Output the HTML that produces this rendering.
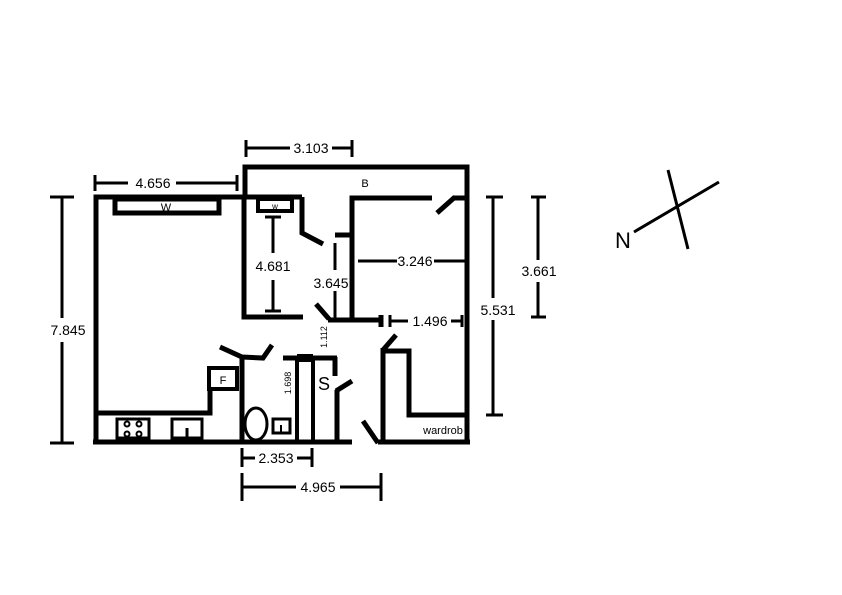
<!DOCTYPE html>
<html><head><style>body{margin:0;background:#fff}svg{display:block}text{font-family:"Liberation Sans",sans-serif;fill:#000}</style></head><body>
<svg width="842" height="595" viewBox="0 0 842 595" xmlns="http://www.w3.org/2000/svg">
<g stroke="#000" stroke-width="5" fill="none" stroke-linecap="butt">
<polyline points="96,442 96,197 302,197"/>
<line x1="93" y1="442" x2="352" y2="442"/>
<line x1="378" y1="442" x2="470" y2="442"/>
<polyline points="245,197 245,167 467,167 467,443"/>
<rect x="115" y="199" width="104" height="14"/>
<rect x="258" y="199" width="34" height="12" stroke-width="4"/>
<polyline points="244,197 244,317 303,317"/>
<polyline points="302,197 302,233 323,244"/>
<polyline points="432,198 352,198 352,322"/>
<line x1="453" y1="198" x2="469" y2="198"/>
<line x1="437" y1="213" x2="455" y2="197"/>
<line x1="328" y1="320" x2="382" y2="320"/>
<line x1="381" y1="315" x2="381" y2="327"/>
<line x1="335" y1="235" x2="352" y2="235"/>
<line x1="316" y1="304" x2="329" y2="319"/>
<polyline points="96,413 210,413 210,391"/>
<rect x="209" y="368" width="28" height="21" stroke-width="4"/>
<line x1="242" y1="357" x2="242" y2="442"/>
<polyline points="220,347 242,357 263,358 272,345"/>
<line x1="283" y1="358" x2="337" y2="358"/>
<line x1="297" y1="358" x2="313" y2="358" stroke-width="8"/>
<line x1="297" y1="358" x2="297" y2="442" stroke-width="4"/>
<line x1="313" y1="358" x2="313" y2="442" stroke-width="4"/>
<line x1="335" y1="357" x2="335" y2="376"/>
<line x1="336" y1="391" x2="352" y2="381"/>
<line x1="337" y1="390" x2="337" y2="442"/>
<line x1="363" y1="421" x2="378" y2="443"/>
<line x1="383" y1="348" x2="383" y2="442"/>
<line x1="383" y1="350" x2="396" y2="335"/>
<polyline points="383,351 409,351 409,415 467,415"/>
</g>
<g stroke="#000" fill="none">
<rect x="117" y="419" width="32" height="19" stroke-width="3"/>
<rect x="172" y="419" width="30" height="19" stroke-width="3"/>
<line x1="187" y1="438" x2="187" y2="428" stroke-width="3"/>
<circle cx="127" cy="424" r="2.5" stroke-width="2"/><circle cx="139" cy="424" r="2.5" stroke-width="2"/>
<circle cx="127" cy="434" r="2.5" stroke-width="2"/><circle cx="139" cy="434" r="2.5" stroke-width="2"/>
<ellipse cx="256" cy="424" rx="11" ry="16" stroke-width="3"/>
<rect x="273" y="419" width="17" height="14" stroke-width="3"/>
<line x1="281" y1="433" x2="281" y2="425" stroke-width="2"/>
</g>
<g stroke="#000" stroke-width="3" fill="none">
<line x1="246" y1="140" x2="246" y2="157"/><line x1="352" y1="140" x2="352" y2="157"/>
<line x1="246" y1="148" x2="290" y2="148"/><line x1="332" y1="148" x2="352" y2="148"/>
<line x1="95" y1="175" x2="95" y2="191"/><line x1="237" y1="175" x2="237" y2="191"/>
<line x1="95" y1="183" x2="128" y2="183"/><line x1="176" y1="183" x2="237" y2="183"/>
<line x1="50" y1="197" x2="74" y2="197"/><line x1="50" y1="443" x2="74" y2="443"/>
<line x1="62" y1="197" x2="62" y2="318"/><line x1="62" y1="342" x2="62" y2="443"/>
<line x1="486" y1="197" x2="503" y2="197"/><line x1="486" y1="415" x2="503" y2="415"/>
<line x1="493" y1="197" x2="493" y2="298"/><line x1="493" y1="320" x2="493" y2="415"/>
<line x1="531" y1="197" x2="546" y2="197"/><line x1="531" y1="317" x2="546" y2="317"/>
<line x1="538" y1="197" x2="538" y2="260"/><line x1="538" y1="282" x2="538" y2="317"/>
<line x1="265" y1="217" x2="281" y2="217"/><line x1="265" y1="311" x2="281" y2="311"/>
<line x1="273" y1="217" x2="273" y2="253"/><line x1="273" y1="280" x2="273" y2="311"/>
<line x1="335" y1="243" x2="335" y2="270"/><line x1="335" y1="291" x2="335" y2="318"/>
<line x1="358" y1="261" x2="397" y2="261"/><line x1="434" y1="261" x2="465" y2="261"/>
<line x1="390" y1="315" x2="390" y2="327"/><line x1="462" y1="315" x2="462" y2="327"/>
<line x1="390" y1="321" x2="408" y2="321"/><line x1="451" y1="321" x2="462" y2="321"/>
<line x1="242" y1="448" x2="242" y2="467"/><line x1="312" y1="448" x2="312" y2="467"/>
<line x1="242" y1="458" x2="255" y2="458"/><line x1="297" y1="458" x2="312" y2="458"/>
<line x1="242" y1="473" x2="242" y2="501"/><line x1="381" y1="473" x2="381" y2="501"/>
<line x1="242" y1="487" x2="296" y2="487"/><line x1="340" y1="487" x2="381" y2="487"/>
<line x1="668" y1="170" x2="688" y2="249"/><line x1="634" y1="232" x2="719" y2="182"/>
</g>
<g font-size="14" text-anchor="middle">
<text x="311" y="153">3.103</text>
<text x="153" y="188">4.656</text>
<text x="68" y="335">7.845</text>
<text x="498" y="315">5.531</text>
<text x="539" y="276">3.661</text>
<text x="273" y="271">4.681</text>
<text x="331" y="288">3.645</text>
<text x="415" y="266">3.246</text>
<text x="430" y="326">1.496</text>
<text x="276" y="463">2.353</text>
<text x="318" y="492">4.965</text>
<text x="365" y="187" font-size="11">B</text>
<text x="166" y="211" font-size="11">W</text>
<text x="275" y="209" font-size="8">w</text>
<text x="223" y="384" font-size="11">F</text>
<text x="324" y="390" font-size="18">S</text>
<text x="443" y="434" font-size="11">wardrob</text>
<text x="623" y="248" font-size="22">N</text>
<text font-size="9" transform="translate(291,383) rotate(-90)">1.698</text>
<text font-size="9" transform="translate(327,337) rotate(-90)">1.112</text>
</g>
</svg>
</body></html>
